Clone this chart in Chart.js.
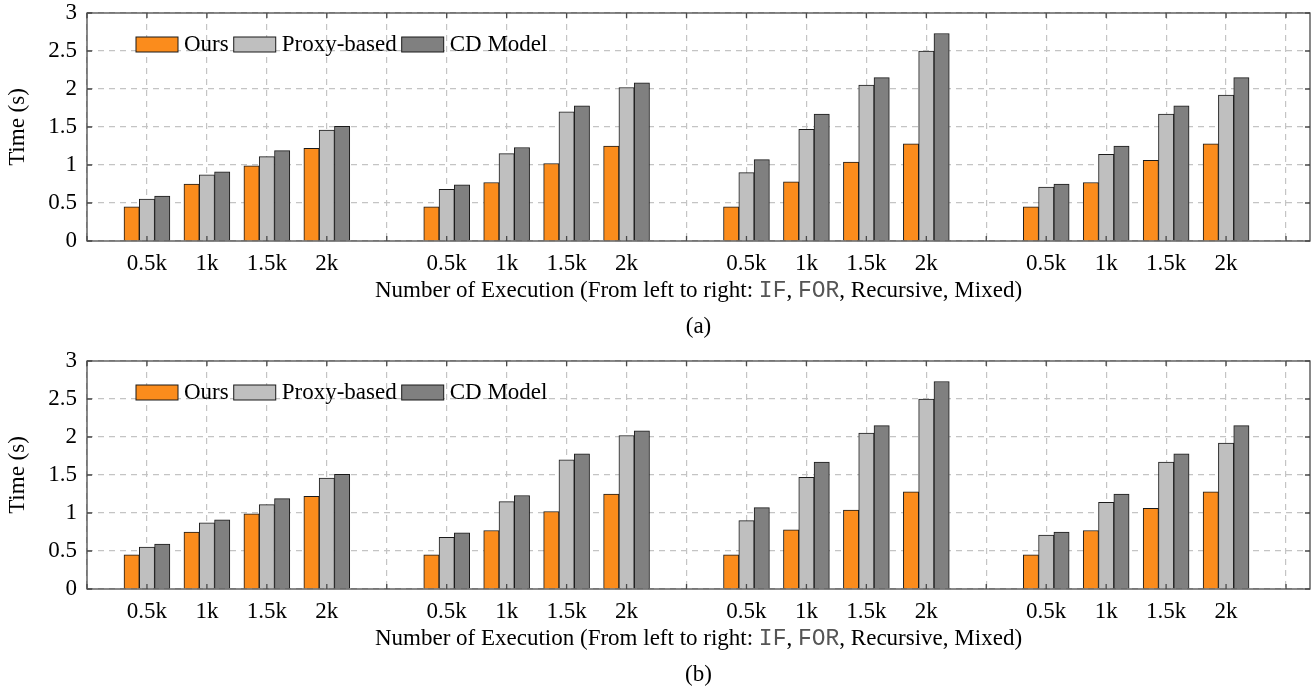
<!DOCTYPE html>
<html lang="en">
<head>
    <meta charset="UTF-8">
    <title>Execution time</title>
    <script src="https://cdn.jsdelivr.net/npm/chart.js"></script>
    <style>
        body { margin: 0; background: #fff; }
        .panel { position: absolute; left: 0; width: 1315px; }
        canvas { display: block; }
    </style>
</head>
<body>

<div class="panel" style="top:0;height:348px"><canvas id="chartA" width="1315" height="348"></canvas></div>
<div class="panel" style="top:348px;height:344px"><canvas id="chartB" width="1315" height="344"></canvas></div>

<script>
    // x categories: four program types, each with four execution counts
    const groups = ['IF', 'FOR', 'Recursive', 'Mixed'];
    const sizes = ['0.5k', '1k', '1.5k', '2k'];

    // time (s), in order IF 0.5k..2k, FOR ..., Recursive ..., Mixed ...
    const ours    = [0.45, 0.75, 0.99, 1.22,  0.45, 0.77, 1.02, 1.25,  0.45, 0.78, 1.04, 1.28,  0.45, 0.77, 1.06, 1.28];
    const proxy   = [0.55, 0.87, 1.11, 1.46,  0.68, 1.15, 1.70, 2.02,  0.90, 1.47, 2.05, 2.50,  0.71, 1.14, 1.67, 1.92];
    const cdModel = [0.59, 0.91, 1.19, 1.51,  0.74, 1.23, 1.78, 2.08,  1.07, 1.67, 2.15, 2.73,  0.75, 1.25, 1.78, 2.15];

    const seriesNames = ['Ours', 'Proxy-based', 'CD Model'];
    const seriesColors = ['#fb8c1c', '#bfbfbf', '#808080'];
    const yTicks = [0, 0.5, 1, 1.5, 2, 2.5, 3];

    // one slot per tick, a blank slot between groups
    const tickLabels = [''];
    groups.forEach(() => { tickLabels.push(...sizes, ''); });

    const pos = i => Math.floor(i / sizes.length) * (sizes.length + 1) + (i % sizes.length) + 1;

    const family = '"Liberation Serif", "Times New Roman", serif';
    Chart.defaults.font.family = family;
    Chart.defaults.color = '#000';

    const serif = '23px ' + family;
    const mono = '23px "Liberation Mono", monospace';

    const framePlugin = {
        id: 'frame',
        afterDatasetsDraw(chart) {
            const {ctx, chartArea: a, scales: {x, y}} = chart;
            ctx.save();
            ctx.strokeStyle = '#4a4a4a';
            ctx.lineWidth = 1.3;
            ctx.strokeRect(a.left, a.top, a.width, a.height);
            ctx.beginPath();
            x.ticks.forEach(t => {
                const px = x.getPixelForValue(t.value);
                ctx.moveTo(px, a.bottom); ctx.lineTo(px, a.bottom - 5);
                ctx.moveTo(px, a.top); ctx.lineTo(px, a.top + 5);
            });
            y.ticks.forEach(t => {
                const py = y.getPixelForValue(t.value);
                ctx.moveTo(a.left, py); ctx.lineTo(a.left + 5, py);
                ctx.moveTo(a.right, py); ctx.lineTo(a.right - 5, py);
            });
            ctx.stroke();

            // legend inside the plot, top left
            let lx = a.left + 49;
            const cy = a.top + 31.5;
            ctx.font = serif;
            ctx.textBaseline = 'middle';
            chart.data.datasets.forEach(ds => {
                ctx.fillStyle = ds.backgroundColor;
                ctx.fillRect(lx, cy - 7.5, 42, 15);
                ctx.strokeStyle = '#1a1a1a';
                ctx.lineWidth = 1;
                ctx.strokeRect(lx, cy - 7.5, 42, 15);
                ctx.fillStyle = '#000';
                ctx.fillText(ds.label, lx + 48, cy);
                lx += 48 + ctx.measureText(ds.label).width + 5;
            });

            // axis label with typewriter parts, then caption
            const parts = [
                ['Number of Execution (From left to right: ', serif],
                [groups[0], mono], [', ', serif], [groups[1], mono],
                [', ' + groups[2] + ', ' + groups[3] + ')', serif]
            ];
            let total = 0;
            parts.forEach(p => { ctx.font = p[1]; total += ctx.measureText(p[0]).width; });
            let tx = (a.left + a.right) / 2 - total / 2;
            ctx.textAlign = 'left';
            parts.forEach(p => {
                ctx.font = p[1];
                ctx.fillStyle = p[1] === mono ? '#555' : '#000';
                ctx.fillText(p[0], tx, a.bottom + 50);
                tx += ctx.measureText(p[0]).width;
            });
            ctx.font = serif;
            ctx.fillStyle = '#000';
            ctx.textAlign = 'center';
            ctx.fillText(chart.options.plugins.caption, (a.left + a.right) / 2, a.bottom + 86);
            ctx.restore();
        }
    };

    function makePanel(id, caption) {
        const canvas = document.getElementById(id);
        const h = canvas.height;
        const values = [ours, proxy, cdModel];

        new Chart(canvas, {
            type: 'bar',
            data: {
                datasets: values.map((vals, k) => ({
                    label: seriesNames[k],
                    data: vals.map((v, i) => ({x: pos(i), y: v})),
                    backgroundColor: seriesColors[k],
                    borderColor: '#1a1a1a',
                    borderWidth: 1,
                    barThickness: 15.3
                }))
            },
            options: {
                responsive: false,
                animation: false,
                layout: {padding: {top: 13, right: 5, left: 0, bottom: 0}},
                plugins: {
                    legend: {display: false},
                    tooltip: {enabled: false},
                    caption: caption
                },
                scales: {
                    x: {
                        type: 'linear',
                        offset: false,
                        min: 0,
                        max: 20.4,
                        afterBuildTicks: s => { s.ticks = tickLabels.map((_, i) => ({value: i})); },
                        afterFit: s => { s.height = h - 241; s.paddingLeft = 0; s.paddingRight = 0; },
                        ticks: {
                            autoSkip: false,
                            maxRotation: 0,
                            padding: 9,
                            font: {size: 23, family: family},
                            callback: v => tickLabels[v] ?? ''
                        },
                        grid: {offset: false, color: '#c4c4c4', lineWidth: 1.2, drawTicks: false},
                        border: {display: false, dash: [6, 5]}
                    },
                    y: {
                        min: 0,
                        max: 3,
                        afterBuildTicks: s => { s.ticks = yTicks.map(v => ({value: v})); },
                        afterFit: s => { s.width = 87; s.paddingTop = 0; s.paddingBottom = 0; },
                        ticks: {padding: 10, font: {size: 23, family: family}, callback: v => String(v)},
                        grid: {color: '#c4c4c4', lineWidth: 1.2, drawTicks: false},
                        border: {display: false, dash: [6, 5]},
                        title: {
                            display: true,
                            text: 'Time (s)',
                            font: {size: 23, lineHeight: 1.2, family: family},
                            padding: {top: 4, bottom: 0}
                        }
                    }
                }
            },
            plugins: [framePlugin]
        });
    }

    makePanel('chartA', '(a)');
    makePanel('chartB', '(b)');
</script>
</body>
</html>
